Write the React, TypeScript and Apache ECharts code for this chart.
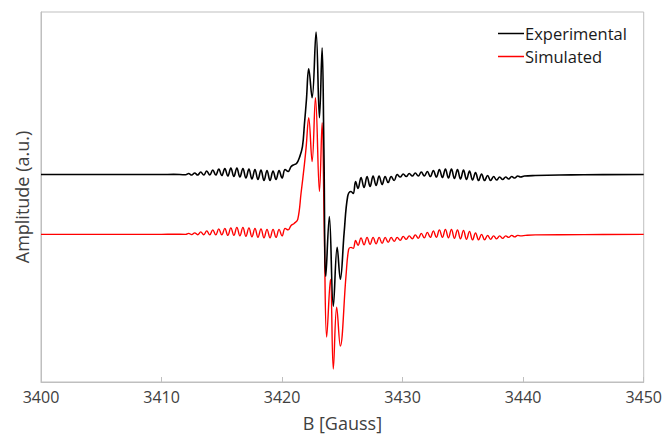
import React, { useEffect, useRef } from "react";
import * as echarts from "echarts";

// Magnetic field (Gauss) and amplitude (a.u.)
const blackField = [
  3400, 3405, 3410, 3411, 3412, 3412.25, 3412.5, 3412.75, 3413, 3413.25, 3413.5, 3413.75,
  3414, 3414.25, 3414.5, 3414.75, 3415, 3415.25, 3415.5, 3415.75, 3416, 3416.25, 3416.5, 3416.75,
  3417, 3417.25, 3417.5, 3417.75, 3418, 3418.25, 3418.5, 3418.75, 3419, 3419.25, 3419.5, 3419.75,
  3420, 3420.25, 3420.5, 3420.75, 3421, 3421.2, 3421.44, 3421.69, 3421.85, 3422.02, 3422.21, 3422.49,
  3422.82, 3423.1, 3423.32, 3423.47, 3423.63, 3423.92, 3424.25, 3424.57, 3424.83, 3425.15, 3425.44, 3425.72,
  3425.9, 3426.1, 3426.3, 3426.55, 3426.8, 3427.05, 3427.3, 3427.55, 3427.8, 3428.05, 3428.3, 3428.55,
  3428.8, 3429.05, 3429.3, 3429.55, 3429.8, 3430.05, 3430.3, 3430.55, 3430.8, 3431.05, 3431.3, 3431.55,
  3431.8, 3432.05, 3432.3, 3432.55, 3432.8, 3433.05, 3433.3, 3433.55, 3433.8, 3434.05, 3434.3, 3434.55,
  3434.8, 3435.05, 3435.3, 3435.55, 3435.8, 3436.05, 3436.3, 3436.55, 3436.8, 3437.05, 3437.3, 3437.55,
  3437.8, 3438.05, 3438.3, 3438.55, 3438.8, 3439.05, 3439.3, 3439.55, 3439.8, 3440.1, 3441, 3443,
  3445, 3450,
];
const blackAmp = [
  208, 208, 208, 208.2, 207.8, 209, 207.5, 209.5, 207.5, 210.5, 207.5, 211.5,
  207.5, 212.5, 207.5, 213.5, 207, 214, 206.5, 214.5, 206, 214.5, 205.5, 214,
  204.5, 213.5, 203.5, 213, 203, 212.5, 202, 212, 202, 211.5, 203, 212,
  204.5, 213, 211, 216, 218, 219, 225, 236, 258, 283, 314, 285,
  351, 265, 335, 233, 106, 166, 76, 135, 103, 150, 186, 191,
  189, 201, 194, 205, 195, 206, 196, 206.5, 197, 206.5, 198, 206,
  200, 206, 202, 208, 205.5, 208.5, 206, 209, 206.5, 209.5, 206.5, 210.5,
  206.5, 211, 206, 212, 205.5, 213, 205, 213.5, 204.5, 213.5, 204, 213,
  203.5, 212.5, 203, 211.5, 202.5, 210, 202, 208.5, 202, 207, 202, 206,
  202.5, 205.5, 203, 205.5, 203.5, 206, 204.5, 206.5, 205.5, 206.5, 207, 207.5,
  207.8, 208,
];

const redField = [
  3400, 3405, 3410, 3411, 3412, 3412.25, 3412.5, 3412.75, 3413, 3413.25, 3413.5, 3413.75,
  3414, 3414.25, 3414.5, 3414.75, 3415, 3415.25, 3415.5, 3415.75, 3416, 3416.25, 3416.5, 3416.75,
  3417, 3417.25, 3417.5, 3417.75, 3418, 3418.25, 3418.5, 3418.75, 3419, 3419.25, 3419.5, 3419.75,
  3420, 3420.25, 3420.5, 3420.75, 3421, 3421.3, 3421.58, 3421.85, 3422.0, 3422.21, 3422.49, 3422.77,
  3423.1, 3423.32, 3423.5, 3423.7, 3424.01, 3424.25, 3424.53, 3424.83, 3425.3, 3425.52, 3425.72,
  3425.9, 3426.1, 3426.3, 3426.55, 3426.8, 3427.05, 3427.3, 3427.55, 3427.8, 3428.05, 3428.3, 3428.55,
  3428.8, 3429.05, 3429.3, 3429.55, 3429.8, 3430.05, 3430.3, 3430.55, 3430.8, 3431.05, 3431.3, 3431.55,
  3431.8, 3432.05, 3432.3, 3432.55, 3432.8, 3433.05, 3433.3, 3433.55, 3433.8, 3434.05, 3434.3, 3434.55,
  3434.8, 3435.05, 3435.3, 3435.55, 3435.8, 3436.05, 3436.3, 3436.55, 3436.8, 3437.05, 3437.3, 3437.55,
  3437.8, 3438.05, 3438.3, 3438.55, 3438.8, 3439.05, 3439.3, 3439.55, 3439.8, 3440.2, 3441, 3445,
  3450,
];
const redAmp = [
  148, 148, 148, 148.2, 148, 149, 147.8, 149.5, 147.7, 150.5, 147.7, 151.5,
  147.5, 152.5, 147.5, 153.5, 147.5, 154, 147, 154.5, 147, 155, 146.5, 155,
  146, 154.5, 145.5, 154, 145, 153.5, 144.5, 153, 144.5, 153, 145, 153,
  146.5, 154, 152.5, 157, 159, 163, 190, 218, 236, 265, 221, 285,
  191, 260, 153, 45, 103, 13, 75, 36, 106, 133, 135,
  134, 142, 137, 144.5, 137.5, 145, 138, 145, 138.5, 145, 139, 145,
  140, 145, 141, 145, 142, 146, 143, 146.5, 143.5, 147.5, 144, 149,
  144.5, 150, 145, 151.5, 145, 152.5, 145, 153, 144.5, 153, 144, 152.5,
  143.5, 152, 143, 151, 142.5, 149.5, 142.5, 148, 142.5, 147, 143, 146.5,
  143.5, 146.5, 144, 146.5, 145, 147, 145.5, 147, 146.5, 147, 147.5, 147.8,
  148,
];

const xTicks = { min: 3400, max: 3450, interval: 10 };
const seriesNames = ["Experimental", "Simulated"];

const FONT = "'Open Sans', 'Noto Sans', sans-serif";

export default function App() {
  const ref = useRef<HTMLDivElement>(null);
  useEffect(() => {
    if (!ref.current) return;
    const chart = echarts.init(ref.current, undefined, { renderer: "svg" });
    chart.setOption({
      animation: false,
      backgroundColor: "#ffffff",
      grid: {
        left: 41,
        right: 21,
        top: 12,
        bottom: 54,
        show: true,
        borderColor: "#bfbfbf",
        borderWidth: 1,
        backgroundColor: "transparent",
      },
      legend: {
        data: seriesNames,
        orient: "vertical",
        left: 493,
        top: 20,
        icon: "rect",
        itemWidth: 26,
        itemHeight: 1.5,
        itemGap: 6,
        textStyle: { fontFamily: FONT, fontSize: 16.5, color: "#1a1a1a", padding: [0, 0, 0, -4], lineHeight: 17 },
      },
      xAxis: {
        type: "value",
        min: xTicks.min,
        max: xTicks.max,
        interval: xTicks.interval,
        name: "B [Gauss]",
        nameLocation: "middle",
        nameGap: 32,
        nameTextStyle: { fontFamily: FONT, fontSize: 18, color: "#404040" },
        axisLine: { show: true, lineStyle: { color: "#bfbfbf", width: 1 } },
        axisTick: { show: true, inside: true, length: 5, lineStyle: { color: "#bfbfbf" } },
        axisLabel: {
          fontFamily: FONT,
          fontSize: 16,
          color: "#404040",
          margin: 7,
          formatter: (v: number) => String(v),
        },
        splitLine: { show: false },
      },
      yAxis: {
        type: "value",
        min: 0,
        max: 371,
        name: "Amplitude (a.u.)",
        nameLocation: "middle",
        nameGap: 10,
        nameTextStyle: { fontFamily: FONT, fontSize: 18, color: "#404040" },
        axisLine: { show: true, lineStyle: { color: "#bfbfbf", width: 1 } },
        axisTick: { show: false },
        axisLabel: { show: false },
        splitLine: { show: false },
      },
      series: [
        {
          name: seriesNames[0],
          type: "line",
          data: blackField.map((x, i) => [x, blackAmp[i]]),
          symbol: "none",
          smooth: 0.4,
          lineStyle: { color: "#000000", width: 1.6 },
          itemStyle: { color: "#000000" },
          z: 3,
        },
        {
          name: seriesNames[1],
          type: "line",
          data: redField.map((x, i) => [x, redAmp[i]]),
          symbol: "none",
          smooth: 0.4,
          lineStyle: { color: "#ff0000", width: 1.4 },
          itemStyle: { color: "#ff0000" },
          z: 2,
        },
      ],
    });
    return () => chart.dispose();
  }, []);
  return <div ref={ref} style={{ width: 665, height: 437, position: "absolute", left: 0, top: 0 }} />;
}
